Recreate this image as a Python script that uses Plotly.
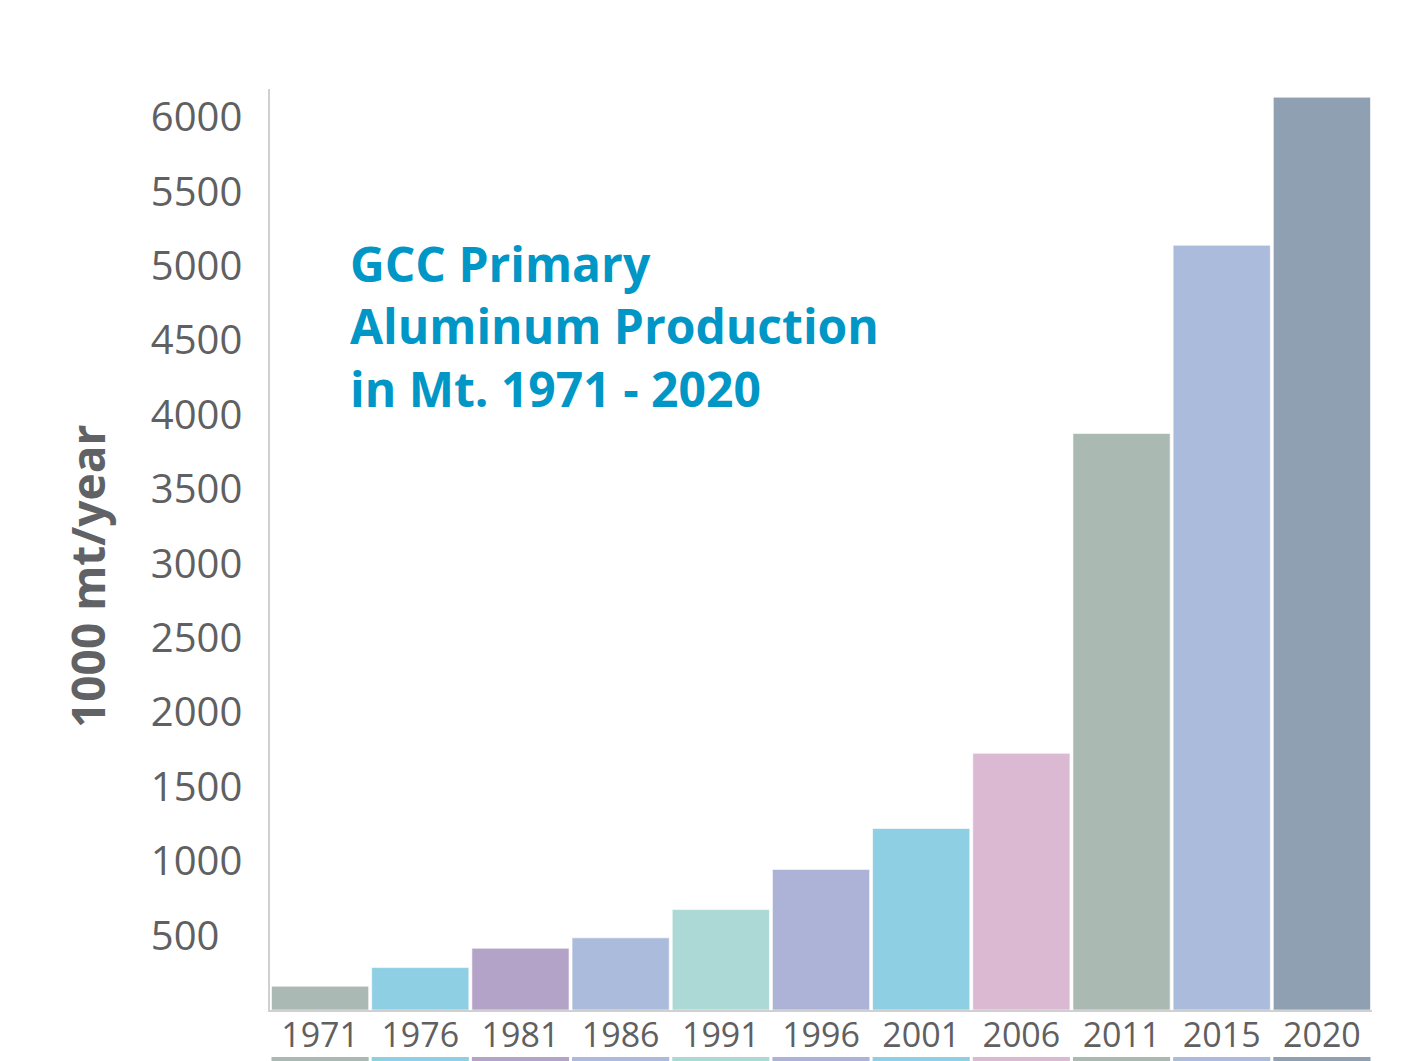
import plotly.graph_objects as go

years = ["1971", "1976", "1981", "1986", "1991", "1996", "2001", "2006", "2011", "2015", "2020"]
production = [160, 285, 415, 485, 675, 945, 1220, 1725, 3875, 5140, 6135]
bar_colors = ["#aab9b3", "#8ecfe3", "#b4a3c9", "#abbbdb", "#acd8d6", "#adb3d6",
              "#8ecfe3", "#dbb9d3", "#abb9b3", "#abbbdb", "#8fa0b3"]
strip_values = [1] * len(years)
y_ticks = [500, 1000, 1500, 2000, 2500, 3000, 3500, 4000, 4500, 5000, 5500, 6000]
y_ticktext = [("%d" % v) if v >= 1000 else ("%d\u2007" % v) for v in y_ticks]

W, H = 1414, 1061
top, plot_bottom = 89, 1010
area_h = H - top
main_lo = (H - plot_bottom) / area_h

fig = go.Figure()
fig.add_trace(go.Bar(
    x=years, y=production, marker=dict(color=bar_colors, line=dict(color="rgba(255,255,255,0.6)", width=1)),
    xaxis="x", yaxis="y", hoverinfo="x+y", showlegend=False))
fig.add_trace(go.Bar(
    x=years, y=strip_values, marker=dict(color=bar_colors, line=dict(width=0)),
    xaxis="x", yaxis="y2", hoverinfo="skip", showlegend=False))

fig.update_layout(
    width=W, height=H,
    margin=dict(l=270, r=42, t=top, b=0, autoexpand=False),
    paper_bgcolor="white", plot_bgcolor="white",
    bargap=0.03,
    font=dict(family="Open Sans", color="#5f6062"),
    xaxis=dict(
        type="category", range=[-0.5, 10.5], anchor="y", automargin=False,
        showline=True, linecolor="#d0d0d0", linewidth=1.5,
        showgrid=False, zeroline=False, ticks="",
        tickfont=dict(size=34, color="#5f6062"), ticklabelstandoff=-6,
    ),
    yaxis=dict(
        domain=[main_lo, 1], range=[0, 6190], automargin=False,
        showline=True, linecolor="#d0d0d0", linewidth=1.5,
        showgrid=False, zeroline=False, ticks="",
        tickvals=y_ticks, ticktext=y_ticktext,
        tickfont=dict(size=40, color="#5f6062"), ticklabelstandoff=18,
    ),
    yaxis2=dict(
        domain=[0, 4 / area_h], range=[0, 1], anchor="x", automargin=False,
        showline=False, showgrid=False, zeroline=False, showticklabels=False, ticks="",
    ),
    annotations=[
        dict(
            text="<b>GCC Primary<br>Aluminum Production<br>in Mt. 1971 - 2020</b>",
            xref="paper", yref="paper", x=0.0705, y=(H - 229) / area_h, xanchor="left", yanchor="top",
            align="left", showarrow=False,
            font=dict(family="Open Sans", size=48, color="#0096c6"),
        ),
        dict(
            text="<b>1000 mt/year</b>", textangle=-90,
            xref="paper", yref="paper", x=(87 - 270) / 1102, y=(H - 577) / area_h,
            xanchor="center", yanchor="middle", showarrow=False,
            font=dict(family="Open Sans", size=46, color="#616265"),
        ),
    ],
)

fig.write_html("out.html", config={"displayModeBar": False},
               post_script="document.body.style.margin='0';document.body.style.overflow='hidden';")
